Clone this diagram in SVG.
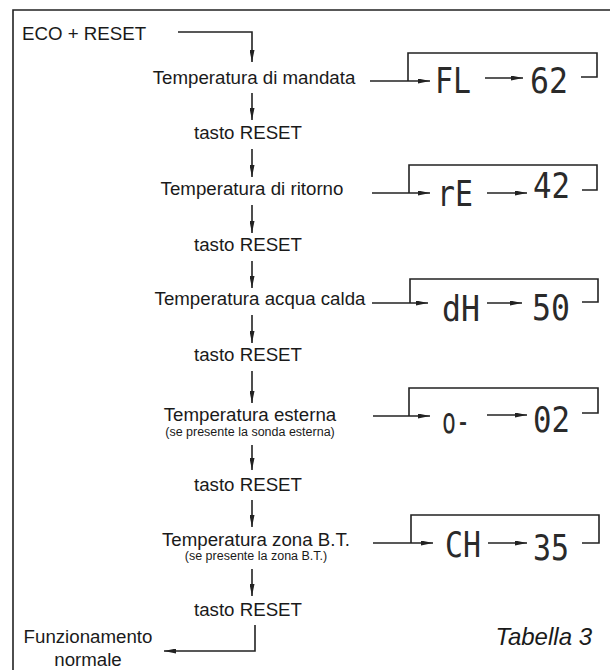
<svg xmlns="http://www.w3.org/2000/svg" width="610" height="670" viewBox="0 0 610 670">
<style>
.t{font-family:"Liberation Sans",Arial,sans-serif;font-size:18.7px;fill:#1a1a1a;text-anchor:middle}
.s{font-family:"Liberation Sans",Arial,sans-serif;font-size:12.5px;fill:#1a1a1a;text-anchor:middle}
.d{font-family:"DejaVu Sans Mono",monospace;font-size:36px;fill:#2a2a2a}
.ln{fill:none;stroke:#222;stroke-width:1.6}
.ar{fill:none;stroke:#222;stroke-width:1.6;marker-end:url(#ah)}
</style>
<defs>
<marker id="ah" viewBox="0 0 12 5" refX="12" refY="2.5" markerWidth="12" markerHeight="5" markerUnits="userSpaceOnUse" orient="auto">
<path d="M0,0 L12,2.5 L0,5 z" fill="#222"/>
</marker>
</defs>
<rect width="610" height="670" fill="#fff"/>
<path class="ln" d="M13,670 V10 H610"/>

<g id="n-eco"><text x="22" y="40" class="t" style="text-anchor:start">ECO + RESET</text></g>
<g id="n-mandata"><text x="254" y="84" class="t">Temperatura di mandata</text></g>
<g id="n-reset1"><text x="248" y="139" class="t">tasto RESET</text></g>
<g id="n-ritorno"><text x="252" y="195" class="t">Temperatura di ritorno</text></g>
<g id="n-reset2"><text x="248" y="251" class="t">tasto RESET</text></g>
<g id="n-acqua"><text x="260" y="305" class="t">Temperatura acqua calda</text></g>
<g id="n-reset3"><text x="248" y="361" class="t">tasto RESET</text></g>
<g id="n-esterna"><text x="250" y="421" class="t">Temperatura esterna</text><text x="250" y="436" class="s">(se presente la sonda esterna)</text></g>
<g id="n-reset4"><text x="248" y="491" class="t">tasto RESET</text></g>
<g id="n-bt"><text x="256" y="546" class="t">Temperatura zona B.T.</text><text x="256" y="560" class="s">(se presente la zona B.T.)</text></g>
<g id="n-reset5"><text x="248" y="616" class="t">tasto RESET</text></g>
<g id="n-normale"><text x="88" y="643" class="t">Funzionamento</text><text x="88" y="666" class="t">normale</text></g>
<g id="n-tabella"><text x="592" y="645" style="font-family:'Liberation Sans',Arial,sans-serif;font-size:24px;font-style:italic;fill:#1a1a1a;text-anchor:end">Tabella 3</text></g>

<g id="d-fl">
<path class="ln" d="M408,81 V53 H597 V77 H581"/>
<text x="435" y="93" class="d" textLength="36" lengthAdjust="spacingAndGlyphs">FL</text>
<text x="530" y="93" class="d" textLength="38" lengthAdjust="spacingAndGlyphs">62</text>
</g>
<g id="d-re">
<path class="ln" d="M409,193 V165 H597 V190 H582"/>
<text x="437" y="206" class="d" textLength="36" lengthAdjust="spacingAndGlyphs">rE</text>
<text x="533" y="198" class="d" textLength="37" lengthAdjust="spacingAndGlyphs">42</text>
</g>
<g id="d-dh">
<path class="ln" d="M410,303 V279 H598 V302 H582"/>
<text x="442" y="321" class="d" textLength="38" lengthAdjust="spacingAndGlyphs">dH</text>
<text x="532" y="320" class="d" textLength="38" lengthAdjust="spacingAndGlyphs">50</text>
</g>
<g id="d-o">
<path class="ln" d="M409,416 V388 H598 V413 H582"/>
<text x="442" y="433" class="d" textLength="28" lengthAdjust="spacingAndGlyphs">o-</text>
<text x="533" y="432" class="d" textLength="37" lengthAdjust="spacingAndGlyphs">02</text>
</g>
<g id="d-ch">
<path class="ln" d="M411,543 V515 H599 V543 H582"/>
<text x="445" y="557" class="d" textLength="36" lengthAdjust="spacingAndGlyphs">CH</text>
<text x="533" y="560" class="d" textLength="36" lengthAdjust="spacingAndGlyphs">35</text>
</g>

<g id="connectors">
<path class="ar" d="M178,32 H252 V62"/>
<path class="ar" d="M252,93 V120"/>
<path class="ar" d="M252,149 V177"/>
<path class="ar" d="M252,205 V233"/>
<path class="ar" d="M252,261 V288"/>
<path class="ar" d="M252,315 V343"/>
<path class="ar" d="M252,371 V403"/>
<path class="ar" d="M252,445 V470"/>
<path class="ar" d="M252,500 V527"/>
<path class="ar" d="M252,569 V596"/>
<path class="ar" d="M255,625 V651 H164"/>
<path class="ar" d="M370,81 H430"/>
<path class="ar" d="M485,78 H523"/>
<path class="ar" d="M372,193 H430"/>
<path class="ar" d="M487,193 H527"/>
<path class="ar" d="M372,303 H428"/>
<path class="ar" d="M487,303 H522"/>
<path class="ar" d="M373,416 H430"/>
<path class="ar" d="M487,415 H527"/>
<path class="ar" d="M373,543 H433"/>
<path class="ar" d="M488,543 H527"/>
</g>
</svg>
